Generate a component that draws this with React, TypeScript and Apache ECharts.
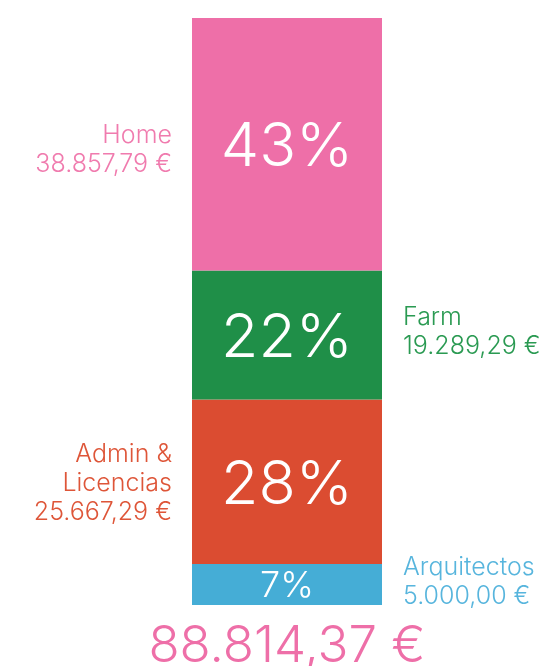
import React, { useEffect, useRef } from "react";
import * as echarts from "echarts";

// Data (bottom to top of the stack)
const categories = ["Arquitectos", "Admin &\nLicencias", "Farm", "Home"];
const amounts = [5000.0, 25667.29, 19289.29, 38857.79];
const percents = [7, 28, 22, 43];
const total = 88814.37;
const sides = ["right", "left", "right", "left"];
const barColors = ["#45ADD6", "#DB4C31", "#1F8F48", "#EE6FA8"];
const textColors = ["#57B5DD", "#DE5538", "#2A9A52", "#F07BAE"];
const pctSizes = [36, 61, 61, 61];
const labelOffsets = [-4, 0, -4, 4];

function fmtEur(v: number): string {
  const [i, d] = v.toFixed(2).split(".");
  const grouped = i.replace(/\B(?=(\d{3})+(?!\d))/g, ".");
  return `${grouped},${d} €`;
}

export default function App() {
  const ref = useRef<HTMLDivElement>(null);
  useEffect(() => {
    if (!ref.current) return;
    const chart = echarts.init(ref.current, null, { renderer: "svg" });
    const font = "Inter";
    const series: any[] = [];
    categories.forEach((name, i) => {
      series.push({
        type: "bar",
        name,
        stack: "bars",
        barWidth: 190,
        barGap: "-100%",
        data: [percents[i]],
        itemStyle: { color: barColors[i] },
        label: {
          show: true,
          position: "inside",
          formatter: `${percents[i]}%`,
          color: "#ffffff",
          fontFamily: font,
          fontWeight: 300,
          fontSize: pctSizes[i],
        },
        z: 3,
      });
    });
    categories.forEach((name, i) => {
      series.push({
        type: "bar",
        name: name + "-label",
        stack: "labels",
        barWidth: 190,
        barGap: "-100%",
        silent: true,
        data: [percents[i]],
        itemStyle: { color: "transparent" },
        label: {
          show: true,
          position: sides[i],
          distance: sides[i] === "left" ? 20 : 21,
          offset: [0, labelOffsets[i]],
          align: sides[i] === "left" ? "right" : "left",
          formatter: `${name}\n${fmtEur(amounts[i])}`,
          color: textColors[i],
          fontFamily: font,
          fontWeight: 300,
          fontSize: 25,
          lineHeight: 29,
        },
        z: 1,
      });
    });
    chart.setOption({
      animation: false,
      grid: {
        left: 192,
        width: 190,
        top: 18,
        bottom: 61,
        containLabel: false,
        outerBoundsMode: "none",
      },
      xAxis: {
        type: "category",
        data: [fmtEur(total)],
        axisLine: { show: false },
        axisTick: { show: false },
        axisLabel: {
          color: "#EE6FA8",
          fontFamily: font,
          fontWeight: 300,
          fontSize: 51,
          lineHeight: 42,
          margin: 17,
        },
      },
      yAxis: {
        type: "value",
        min: 0,
        max: 100,
        show: false,
        splitLine: { show: false },
      },
      series,
    });
    return () => chart.dispose();
  }, []);
  return (
    <div
      ref={ref}
      style={{ position: "fixed", left: 0, top: 0, width: 541, height: 666 }}
    />
  );
}
